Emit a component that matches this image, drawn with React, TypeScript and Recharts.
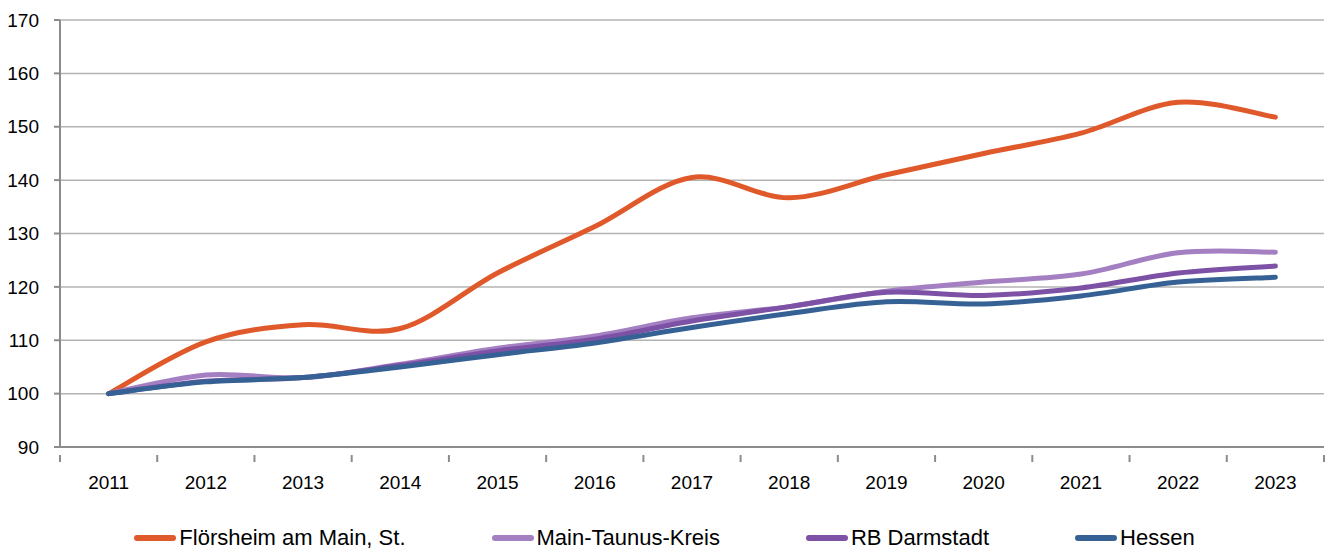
import { LineChart, Line, XAxis, YAxis, CartesianGrid } from 'recharts';

const years = ['2011', '2012', '2013', '2014', '2015', '2016', '2017', '2018', '2019', '2020', '2021', '2022', '2023'];
const floersheim = [100, 109.7, 112.9, 112.2, 122.6, 131.3, 140.5, 136.7, 141, 145, 148.8, 154.6, 151.8];
const mainTaunus = [100, 103.5, 103, 105.5, 108.5, 110.8, 114.2, 116.3, 119.2, 120.9, 122.4, 126.4, 126.5];
const rbDarmstadt = [100, 102.3, 103, 105.3, 108, 110.2, 113.6, 116.3, 119, 118.4, 119.8, 122.6, 123.9];
const hessen = [100, 102.2, 103, 105, 107.3, 109.5, 112.4, 115, 117.2, 116.8, 118.3, 120.9, 121.8];
const yTicks = [90, 100, 110, 120, 130, 140, 150, 160, 170];

const series = [
  { key: 'floersheim', name: 'Flörsheim am Main, St.', color: '#E0592A' },
  { key: 'mainTaunus', name: 'Main-Taunus-Kreis', color: '#A47FC2' },
  { key: 'rbDarmstadt', name: 'RB Darmstadt', color: '#7D51A5' },
  { key: 'hessen', name: 'Hessen', color: '#366195' },
];

const data = years.map((year, i) => ({
  year,
  floersheim: floersheim[i],
  mainTaunus: mainTaunus[i],
  rbDarmstadt: rbDarmstadt[i],
  hessen: hessen[i],
}));

const FONT = '"Liberation Sans", Arial, sans-serif';
const AXIS = '#8c8c8c';

// smooth line like the spreadsheet's "smoothed line" (catmull-rom style bezier)
function smoothCurve(context: any) {
  let pts: number[][] = [];
  return {
    areaStart() {},
    areaEnd() {},
    lineStart() { pts = []; },
    point(x: number, y: number) { pts.push([+x, +y]); },
    lineEnd() {
      if (!pts.length) return;
      context.moveTo(pts[0][0], pts[0][1]);
      for (let i = 0; i < pts.length - 1; i++) {
        const p0 = pts[i - 1] || pts[i];
        const p1 = pts[i];
        const p2 = pts[i + 1];
        const p3 = pts[i + 2] || p2;
        context.bezierCurveTo(
          p1[0] + (p2[0] - p0[0]) / 6, p1[1] + (p2[1] - p0[1]) / 6,
          p2[0] - (p3[0] - p1[0]) / 6, p2[1] - (p3[1] - p1[1]) / 6,
          p2[0], p2[1],
        );
      }
    },
  };
}

const STEP = (1324 - 60) / years.length;

function YearTick(props: any) {
  const { x, y, payload, index } = props;
  const last = index === years.length - 1;
  return (
    <g>
      <line x1={x - STEP / 2} x2={x - STEP / 2} y1={y} y2={y + 7} stroke={AXIS} strokeWidth={2} />
      {last && <line x1={x + STEP / 2} x2={x + STEP / 2} y1={y} y2={y + 7} stroke={AXIS} strokeWidth={2} />}
      <text x={x} y={y + 34} textAnchor="middle" fill="#000" fontSize={19} fontFamily={FONT}>
        {payload.value}
      </text>
    </g>
  );
}

function LegendRow() {
  return (
    <div
      style={{
        position: 'absolute',
        top: 525,
        left: 0,
        width: 1329,
        display: 'flex',
        justifyContent: 'center',
        gap: 86,
        fontFamily: FONT,
        fontSize: 22,
        lineHeight: '26px',
        color: '#000',
      }}
    >
      {series.map(s => (
        <div key={s.key} style={{ display: 'flex', alignItems: 'center' }}>
          <div style={{ width: 42, height: 6, borderRadius: 3, background: s.color, marginRight: 3 }} />
          <span>{s.name}</span>
        </div>
      ))}
    </div>
  );
}

export default function App() {
  return (
    <div style={{ position: 'absolute', left: 0, top: 0, width: 1329, height: 554, background: '#fff' }}>
      <LineChart width={1329} height={554} data={data} margin={{ top: 20, right: 5, bottom: 0, left: 0 }}>
        <CartesianGrid vertical={false} stroke="#b3b3b3" strokeWidth={1.5} />
        <XAxis
          dataKey="year"
          stroke={AXIS}
          strokeWidth={2}
          tickLine={false}
          tick={<YearTick />}
          interval={0}
          height={107}
          padding={{ left: STEP / 2, right: STEP / 2 }}
        />
        <YAxis
          domain={[90, 170]}
          ticks={yTicks}
          interval={0}
          width={60}
          stroke={AXIS}
          strokeWidth={2}
          tickSize={6}
          tickMargin={15}
          tick={{ fill: '#000', fontSize: 19, fontFamily: FONT }}
        />
        {series.map(s => (
          <Line
            key={s.key}
            dataKey={s.key}
            name={s.name}
            type={smoothCurve as any}
            stroke={s.color}
            strokeWidth={5}
            strokeLinecap="round"
            dot={false}
            isAnimationActive={false}
          />
        ))}
      </LineChart>
      <LegendRow />
    </div>
  );
}
